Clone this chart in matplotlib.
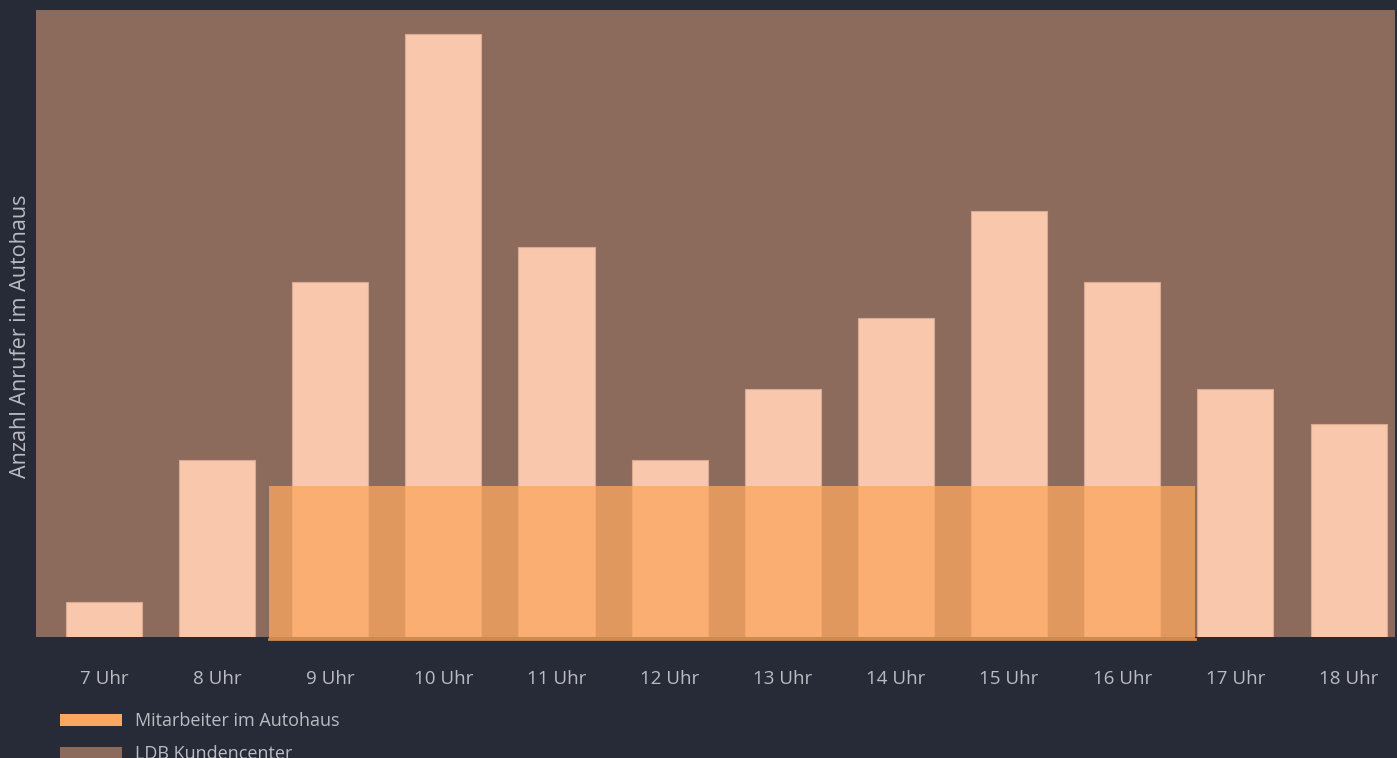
import matplotlib
matplotlib.use('Agg')
import matplotlib.pyplot as plt
from matplotlib.patches import Patch

# Anrufe pro Stunde
hours = ['7 Uhr', '8 Uhr', '9 Uhr', '10 Uhr', '11 Uhr', '12 Uhr',
         '13 Uhr', '14 Uhr', '15 Uhr', '16 Uhr', '17 Uhr', '18 Uhr']
calls = [1, 5, 10, 17, 11, 5, 7, 9, 12, 10, 7, 6]

# Mitarbeiter im Autohaus: Zeitraum und Kapazitaet
staff_hours = [8.46, 16.64]
staff_level = 4.25

bg = '#272b38'
brown = '#8c6b5c'
peach = '#f8c7ac'
orange = '#fca760'
text_col = '#babcc2'

plt.rcParams['font.family'] = ['Open Sans', 'DejaVu Sans']

fig = plt.figure(figsize=(13.97, 7.58), dpi=100, facecolor=bg)
ax = fig.add_axes([36 / 1397, 1 - 637 / 758, 1359 / 1397, 627 / 758])
ax.set_facecolor(brown)

x = list(range(len(hours)))
ax.bar(x, calls, width=0.672, color=peach, edgecolor='#d9ab95', linewidth=0.8, zorder=2)

sx = [h - 7 for h in staff_hours]
ax.fill_between(sx, -0.08, staff_level, color=orange, alpha=0.77, linewidth=0,
                clip_on=False, zorder=3)
ax.plot(sx, [-0.06, -0.06], color='#d08a4e', linewidth=2, clip_on=False, zorder=3)

ax.set_xlim(-0.6, len(hours) - 0.59)
ax.set_ylim(0, max(calls) * 1.04)
ax.set_xticks(x)
ax.set_xticklabels(hours)
ax.set_yticks([])
ax.tick_params(axis='x', length=0, pad=24, labelsize=13.5, labelcolor=text_col)
for s in ax.spines.values():
    s.set_visible(False)
ax.set_ylabel('Anzahl Anrufer im Autohaus', color=text_col, fontsize=15.5)
ax.yaxis.set_label_coords(-0.0038, 0.48)

handles = [Patch(facecolor=orange, edgecolor='none', label='Mitarbeiter im Autohaus'),
           Patch(facecolor=brown, edgecolor='none', label='LDB Kundencenter')]
fig.legend(handles=handles, loc='upper left', bbox_to_anchor=(0.0315, 0.082),
           frameon=False, fontsize=13, labelcolor=text_col,
           handlelength=3.4, handleheight=0.67, handletextpad=0.72, labelspacing=0.85)

fig.savefig('out.png', dpi=100, facecolor=bg)
